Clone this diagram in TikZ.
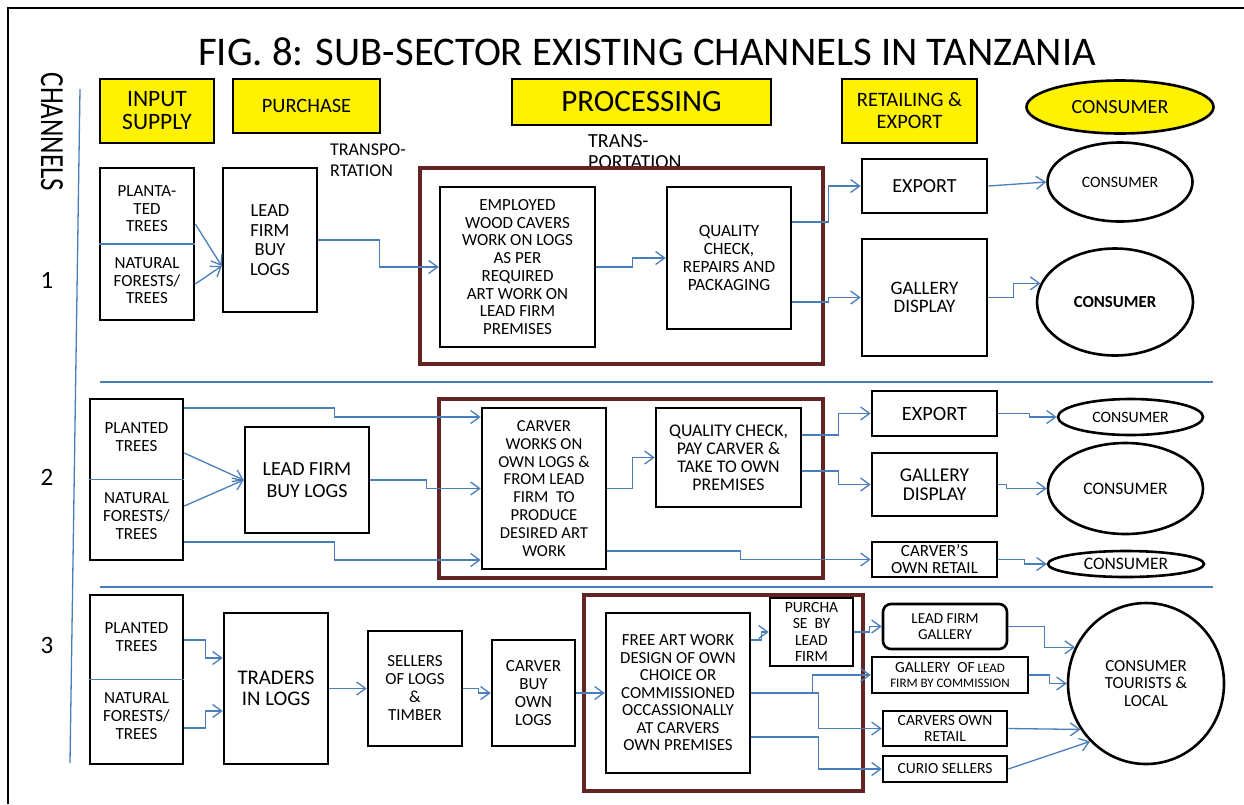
\documentclass[tikz,border=0pt]{standalone}
\usepackage{fontspec}
\setmainfont{Carlito}
\usetikzlibrary{arrows.meta}
\usetikzlibrary{shapes.geometric}
\definecolor{flowblue}{RGB}{74,126,187}
\definecolor{procbrown}{RGB}{99,37,35}
\newcommand{\fsz}[2]{\fontsize{#1}{#2}\selectfont}

\begin{document}
\begin{tikzpicture}[x=1pt,y=-1pt]
	\useasboundingbox (0,0) rectangle (1244,804);
	\draw[line width=2.5pt] (8,804) -- (8,8) -- (1244,8);

	\node[font={\fsz{40.7}{44}}] (title) at (647,52) {FIG. 8: SUB-SECTOR EXISTING CHANNELS IN TANZANIA};
	\node[rotate=-90,font={\fsz{27}{30}}] (chan) at (52,132) {\scalebox{1}[1.25]{CHANNELS}};
	\node[font={\fsz{25}{30}}] (n1) at (47,280) {1};
	\node[font={\fsz{25}{30}}] (n2) at (47,477) {2};
	\node[font={\fsz{25}{30}}] (n3) at (47,645) {3};

	\begin{scope}[flowblue,line width=1.3pt]
		\draw (80,89) -- (70,763);
		\draw (100,382) -- (1213,382);
		\draw (100,587) -- (1213,587);
	\end{scope}

	% stage headers
	\begin{scope}[every node/.style={draw,line width=2.6pt,fill=yellow,align=center,inner sep=0}]
		\node[minimum width=114,minimum height=64,font={\fsz{23.5}{23}}] (hinput) at (157,111) {INPUT\\SUPPLY};
		\node[minimum width=147,minimum height=54,font={\fsz{20.4}{22}}] (hpurch) at (306.5,106) {PURCHASE};
		\node[minimum width=259,minimum height=46,font={\fsz{31}{32}}] (hproc) at (641.5,102) {PROCESSING};
		\node[minimum width=135,minimum height=64,font={\fsz{20.5}{22}}] (hretail) at (909.5,111) {RETAILING \&\\EXPORT};
		\node[ellipse,minimum width=187,minimum height=53,font={\fsz{20.1}{22}}] (hcons) at (1120,107) {CONSUMER};
	\end{scope}

	\begin{scope}[every node/.style={align=left,anchor=west,inner sep=0}]
		\node[font={\fsz{18}{21}}] (trans1) at (330,160) {TRANSPO-\\RTATION};
		\node[font={\fsz{20}{21}}] (trans2) at (588,152) {TRANS-\\PORTATION};
	\end{scope}

	% processing frames
	\begin{scope}[every node/.style={draw=procbrown,line width=4.5pt,inner sep=0}]
		\node[minimum width=403,minimum height=196] (proc1) at (621.5,266) {};
		\node[minimum width=384,minimum height=179] (proc2) at (631,488.5) {};
		\node[minimum width=279,minimum height=196] (proc3) at (723.5,693) {};
	\end{scope}

	\begin{scope}[every node/.style={draw,line width=2.6pt,align=center,inner sep=0}]
		% channel 1
		\node[minimum width=94,minimum height=152] (in1) at (147,244) {};
		\node[minimum width=94,minimum height=144,font={\fsz{18.5}{19.5}}] (lf1) at (270,240) {LEAD\\FIRM\\BUY\\LOGS};
		\node[minimum width=155,minimum height=160,font={\fsz{17}{17.7}}] (emp1) at (517.5,267) {EMPLOYED\\WOOD CAVERS\\WORK ON LOGS\\AS PER\\REQUIRED\\ART WORK ON\\LEAD FIRM\\PREMISES};
		\node[minimum width=124,minimum height=142,font={\fsz{17.2}{18}}] (qc1) at (729,258) {QUALITY\\CHECK,\\REPAIRS AND\\PACKAGING};
		\node[minimum width=125,minimum height=54,font={\fsz{20}{22}}] (ex1) at (924.5,186) {EXPORT};
		\node[minimum width=125,minimum height=117,font={\fsz{19}{18.5}}] (ga1) at (924.5,297.5) {GALLERY\\DISPLAY};
		\node[ellipse,minimum width=145,minimum height=79,font={\fsz{15.8}{18}}] (co1a) at (1120,182) {CONSUMER};
		\node[ellipse,minimum width=156,minimum height=107,font={\fsz{16.8}{18}\bfseries}] (co1b) at (1115,302) {CONSUMER};
		% channel 2
		\node[minimum width=93,minimum height=161] (in2) at (136.5,479.5) {};
		\node[minimum width=124,minimum height=106,font={\fsz{20}{22}}] (lf2) at (307,480) {LEAD FIRM\\BUY LOGS};
		\node[minimum width=124,minimum height=161,font={\fsz{16.7}{17.9}}] (cv2) at (544,488.5) {CARVER\\WORKS ON\\OWN LOGS \&\\FROM LEAD\\FIRM~~TO\\PRODUCE\\DESIRED ART\\WORK};
		\node[minimum width=145,minimum height=99,font={\fsz{17.8}{18}}] (qc2) at (728.5,457.5) {QUALITY CHECK,\\PAY CARVER \&\\TAKE TO OWN\\PREMISES};
		\node[minimum width=125,minimum height=45,font={\fsz{20.3}{22}}] (ex2) at (934.5,413.5) {EXPORT};
		\node[minimum width=125,minimum height=63,font={\fsz{19.5}{19}}] (ga2) at (934.5,484.5) {GALLERY\\DISPLAY};
		\node[minimum width=125,minimum height=35,font={\fsz{17}{17}}] (cr2) at (934.5,559.5) {CARVER’S\\OWN RETAIL};
		\node[ellipse,minimum width=145,minimum height=36,font={\fsz{15.8}{18}}] (co2a) at (1130.5,417) {CONSUMER};
		\node[ellipse,minimum width=155,minimum height=91,font={\fsz{17.5}{18}}] (co2b) at (1125.5,488.5) {CONSUMER};
		\node[ellipse,minimum width=156,minimum height=26,font={\fsz{17.5}{18}}] (co2c) at (1126,564) {CONSUMER};
		% channel 3
		\node[minimum width=93,minimum height=169] (in3) at (136.5,679.5) {};
		\node[minimum width=104,minimum height=151,font={\fsz{20.8}{21}}] (tr3) at (276,688.5) {TRADERS\\IN LOGS};
		\node[minimum width=94,minimum height=115,font={\fsz{16.9}{18}}] (se3) at (415,688.5) {SELLERS\\OF LOGS\\\&\\TIMBER};
		\node[minimum width=83,minimum height=106,font={\fsz{17}{17.7}}] (cb3) at (533.5,693) {CARVER\\BUY\\OWN\\LOGS};
		\node[minimum width=144,minimum height=160,font={\fsz{16.9}{17.5}}] (fa3) at (678,693) {FREE ART WORK\\DESIGN OF OWN\\CHOICE OR\\COMMISSIONED\\OCCASSIONALLY\\AT CARVERS\\OWN PREMISES};
		\node[minimum width=83,minimum height=68,font={\fsz{15.6}{16.3}}] (pu3) at (811.5,632) {PURCHA\\SE~~BY\\LEAD\\FIRM};
		\node[rounded corners=8pt,minimum width=124,minimum height=45,font={\fsz{15.2}{15.5}}] (lg3) at (945,626.5) {LEAD FIRM\\GALLERY};
		\node[minimum width=156,minimum height=36,font={\fsz{13}{15}}] (gc3) at (950,675) {{\fsz{15.5}{15}GALLERY~~OF} LEAD\\FIRM BY COMMISSION};
		\node[minimum width=124,minimum height=35,font={\fsz{15.5}{15.5}}] (cr3) at (945,728.5) {CARVERS OWN\\RETAIL};
		\node[minimum width=124,minimum height=26,font={\fsz{15.5}{17}}] (cu3) at (945,769) {CURIO SELLERS};
		\node[ellipse,minimum width=156,minimum height=161,font={\fsz{16.9}{17.5}}] (cons3) at (1146,683.5) {CONSUMER\\TOURISTS \&\\LOCAL};
	\end{scope}

	% tree sources
	\begin{scope}[every node/.style={align=center,inner sep=0}]
		\node[font={\fsz{17}{17.5}}] (pt1) at (147,209) {PLANTA-\\TED\\TREES};
		\node[font={\fsz{17}{17.5}}] (nf1) at (147,281) {NATURAL\\FORESTS/\\TREES};
		\node[font={\fsz{17}{18}}] (pt2) at (136.5,437) {PLANTED\\TREES};
		\node[font={\fsz{17}{18}}] (nf2) at (136.5,516) {NATURAL\\FORESTS/\\TREES};
		\node[font={\fsz{17}{18}}] (pt3) at (136.5,637) {PLANTED\\TREES};
		\node[font={\fsz{17}{18}}] (nf3) at (136.5,716) {NATURAL\\FORESTS/\\TREES};
	\end{scope}

	\begin{scope}[>={Straight Barb[length=9pt,width=13pt]},
	              flow/.style={->,draw=flowblue,line width=1.3pt}]
		\draw[flowblue,line width=1.3pt] (in1.west) -- (in1.east);
		\draw[flowblue,line width=1.3pt] (in2.west) -- (in2.east);
		\draw[flowblue,line width=1.3pt] (in3.west) -- (in3.east);
		% channel 1
		\draw[flow] (in1.east |- 0,224) -- (lf1.west |- 0,266);
		\draw[flow] (in1.east |- 0,284) -- (lf1.west |- 0,266);
		\draw[flow] (lf1.east) -- ++(61,0) |- (emp1.west);
		\draw[flow] (emp1.east) -- ++(36,0) |- (qc1.west);
		\draw[flow] (qc1.east |- 0,222) -- ++(36,0) |- (ex1.west);
		\draw[flow] (qc1.east |- 0,302) -- ++(36,0) |- (ga1.west);
		\draw[flow] (ex1.east) -- (co1a.west);
		\draw[flow] (ga1.east) -- ++(25,0) |- (co1b.166);
		% channel 2
		\draw[flow] (in2.east |- 0,453) -- (lf2.west);
		\draw[flow] (in2.east |- 0,506) -- (lf2.west);
		\draw[flow] (in2.east |- 0,408) -- ++(150,0) |- (cv2.west |- 0,417);
		\draw[flow] (lf2.east) -- ++(56,0) |- (cv2.west);
		\draw[flow] (in2.east |- 0,542) -- ++(150,0) |- (cv2.west |- 0,560);
		\draw[flow] (cv2.east) -- ++(25,0) |- (qc2.west);
		\draw[flow] (cv2.east |- 0,551) -- ++(133,0) |- (cr2.west);
		\draw[flow] (qc2.east |- 0,435) -- ++(36,0) |- (ex2.west);
		\draw[flow] (qc2.east |- 0,471) -- ++(36,0) |- (ga2.west);
		\draw[flow] (ex2.east) -- ++(31,0) |- (co2a.west);
		\draw[flow] (ga2.east) -- ++(8,0) |- (co2b.west);
		\draw[flow] (cr2.east) -- ++(26,0) |- (co2c.west);
		% channel 3
		\draw[flow] (in3.east |- 0,640) -- ++(21,0) |- (tr3.west |- 0,658);
		\draw[flow] (in3.east |- 0,728) -- ++(21,0) |- (tr3.west |- 0,711);
		\draw[flow] (tr3.east) -- (se3.west);
		\draw[flow] (se3.east) -- ++(15,0) |- (cb3.west);
		\draw[flow] (cb3.east) -- (fa3.west);
		\draw[flow] (fa3.east |- 0,640) -- ++(10,0) |- (pu3.west);
		\draw[flow] (pu3.east) -- ++(15,0) |- (lg3.west);
		\draw[flow] (fa3.east) -- ++(61,0) |- (gc3.west);
		\draw[flow] (fa3.east) -- ++(67,0) |- (cr3.west);
		\draw[flow] (fa3.east |- 0,737) -- ++(67,0) |- (cu3.west);
		\draw[flow] (lg3.east) -- ++(36,0) |- (cons3.153);
		\draw[flow] (gc3.east) -- ++(20,0) |- (cons3.180);
		\draw[flow] (cr3.east) -- (cons3.215);
		\draw[flow] (cu3.east) -- (cons3.226);
	\end{scope}
\end{tikzpicture}
\end{document}
